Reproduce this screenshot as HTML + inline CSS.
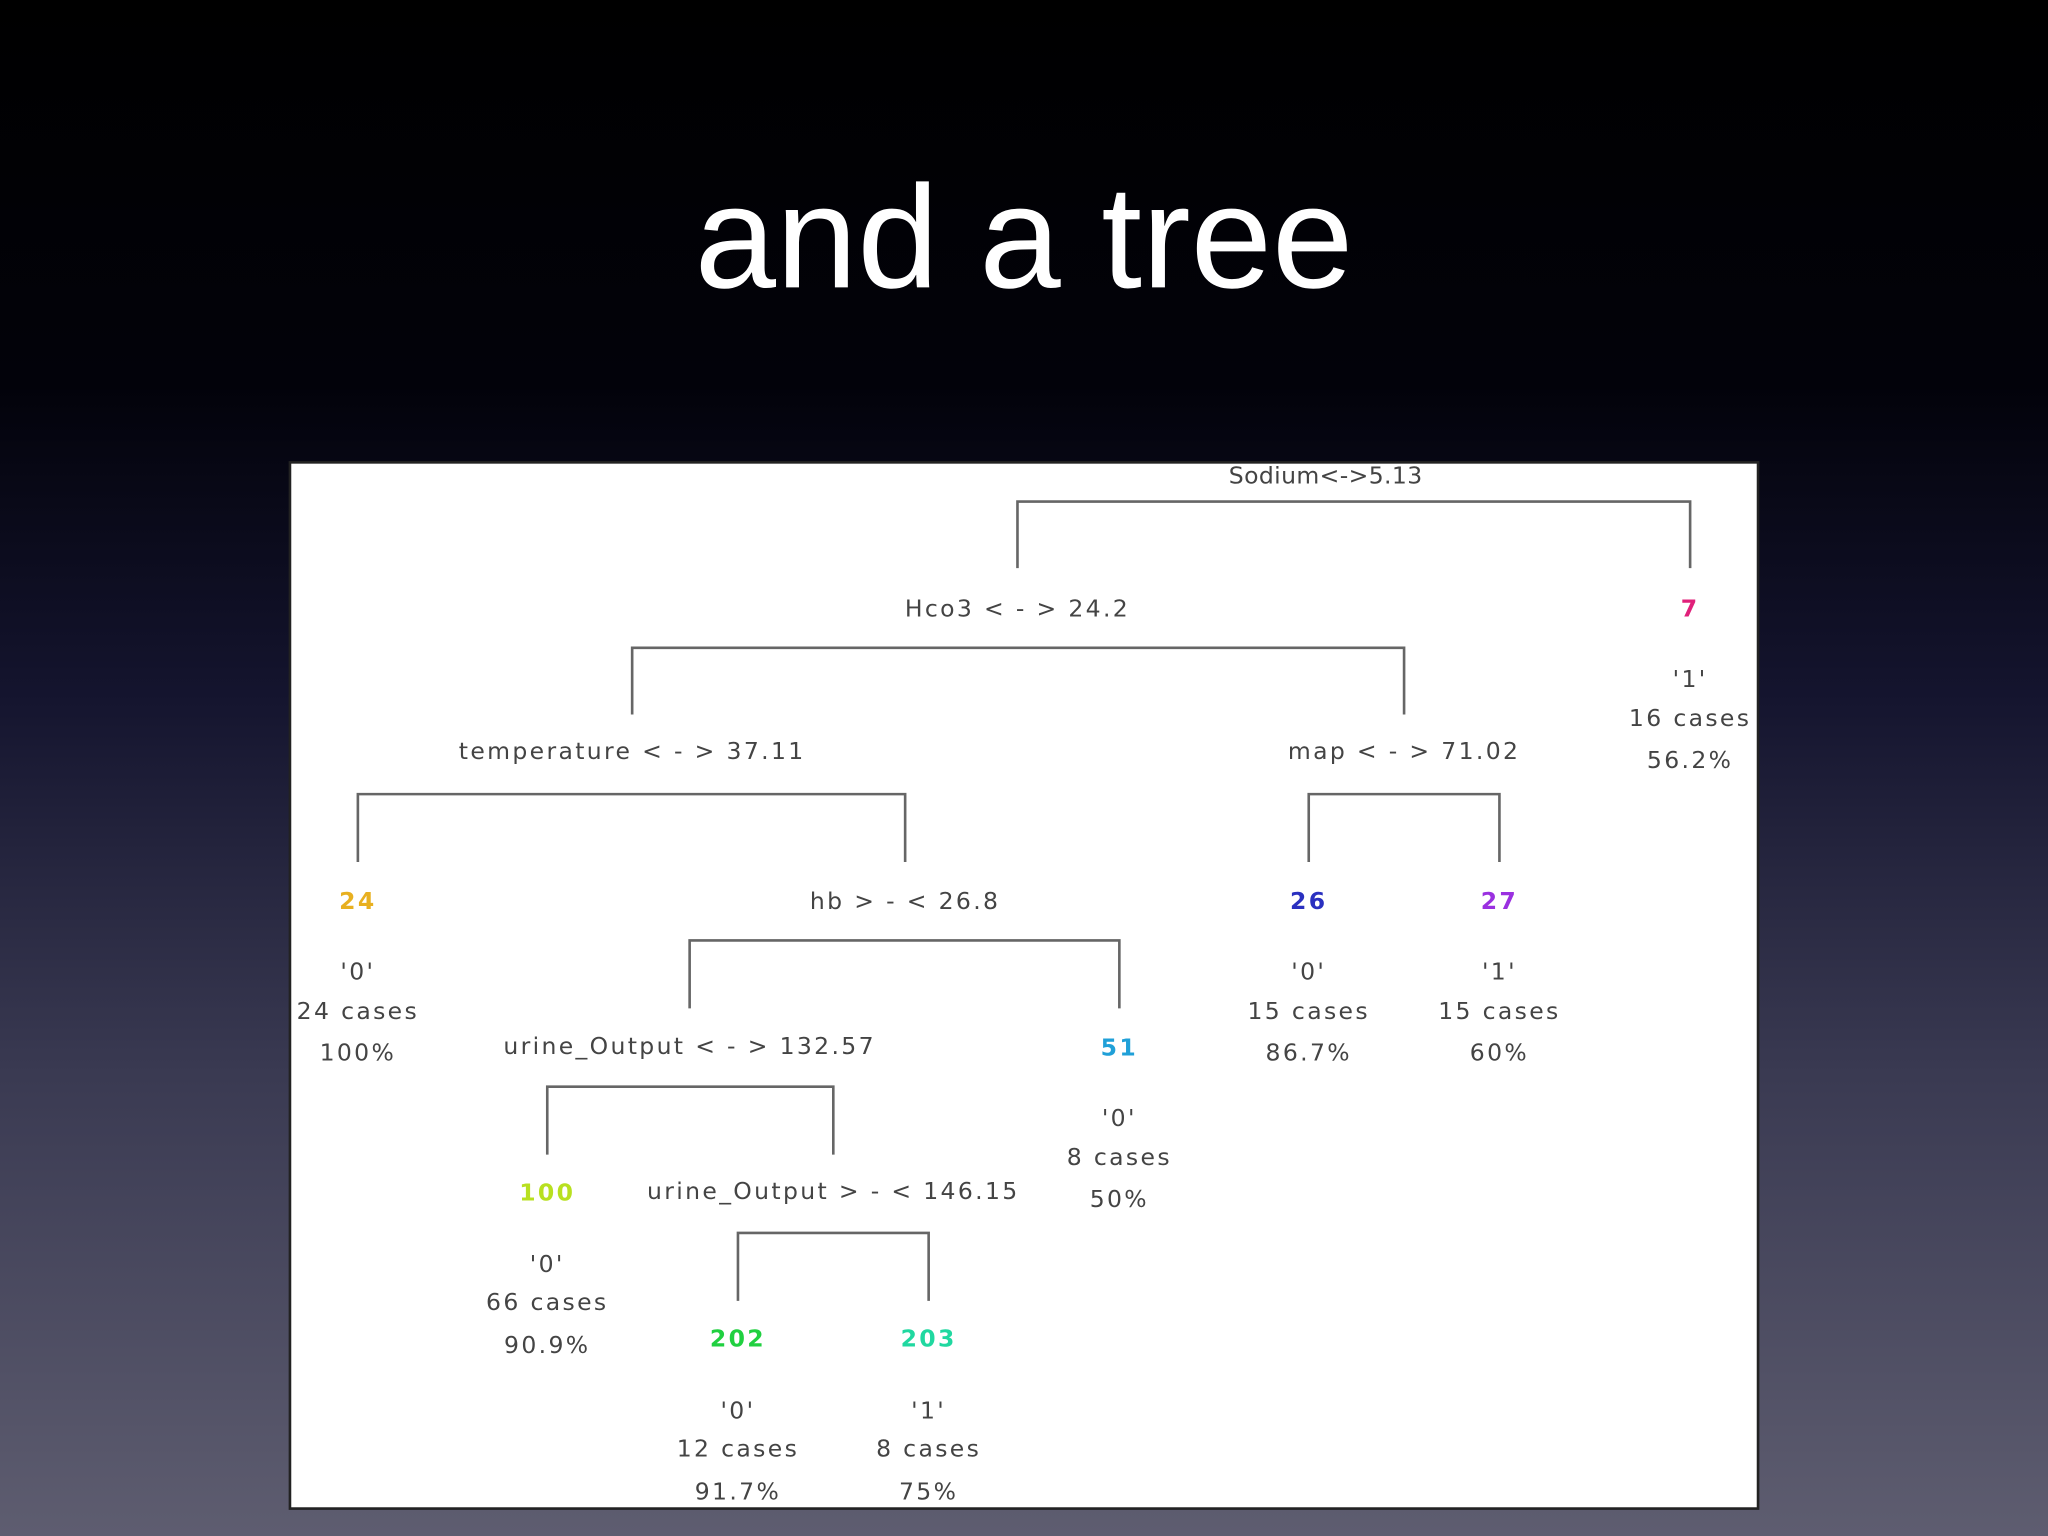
<!DOCTYPE html>
<html><head><meta charset="utf-8"><style>
html,body{margin:0;padding:0;width:2048px;height:1536px;overflow:hidden;background:#000}
svg{display:block}
</style></head><body>
<svg width="2048" height="1536" viewBox="0 0 1568 1176" preserveAspectRatio="none" xmlns="http://www.w3.org/2000/svg">
<defs><linearGradient id="bg" x1="0" y1="0" x2="0" y2="1">
<stop offset="0" stop-color="#000"/><stop offset="0.25" stop-color="#02020a"/>
<stop offset="0.45" stop-color="#14142e"/><stop offset="0.7" stop-color="#3a3a52"/>
<stop offset="1" stop-color="#5e5d70"/></linearGradient></defs>
<rect width="1568" height="1176" fill="url(#bg)"/>
<text x="784" y="220" fill="#fff" font-family="Liberation Sans, sans-serif" font-size="112" text-anchor="middle">and a tree</text>
<rect x="222" y="354" width="1124" height="801" fill="#fff" stroke="#222" stroke-width="2"/>
<g fill="none" stroke="#666" stroke-width="2">
<path d="M779 435V384H1294V435"/>
<path d="M484 547V496H1075V547"/>
<path d="M274 660V608H693V660"/>
<path d="M1002 660V608H1148V660"/>
<path d="M528 772V720H857V772"/>
<path d="M419 884V832H638V884"/>
<path d="M565 996V944H711V996"/>
</g>
<g font-family="DejaVu Sans, Liberation Sans, sans-serif" font-size="18" fill="#444" text-anchor="middle" letter-spacing="1.8">
<text x="1015" y="370" letter-spacing="0.3">Sodium&lt;-&gt;5.13</text>
<text x="779" y="472">Hco3 &lt; - &gt; 24.2</text>
<text x="484" y="581">temperature &lt; - &gt; 37.11</text>
<text x="1075" y="581">map &lt; - &gt; 71.02</text>
<text x="693" y="696">hb &gt; - &lt; 26.8</text>
<text x="528" y="807">urine_Output &lt; - &gt; 132.57</text>
<text x="638" y="918">urine_Output &gt; - &lt; 146.15</text>
<g font-weight="bold">
<text x="1294" y="472" fill="#e0207a">7</text>
<text x="274" y="696" fill="#e8b020">24</text>
<text x="1002" y="696" fill="#2a30c0">26</text>
<text x="1148" y="696" fill="#9a30e0">27</text>
<text x="857" y="808" fill="#20a0d8">51</text>
<text x="419" y="919" fill="#b8e020">100</text>
<text x="565" y="1031" fill="#20d040">202</text>
<text x="711" y="1031" fill="#20d8a0">203</text>
</g>
<text x="1294" y="526">'1'</text><text x="1294" y="556">16 cases</text><text x="1294" y="588">56.2%</text>
<text x="274" y="750">'0'</text><text x="274" y="780">24 cases</text><text x="274" y="812">100%</text>
<text x="1002" y="750">'0'</text><text x="1002" y="780">15 cases</text><text x="1002" y="812">86.7%</text>
<text x="1148" y="750">'1'</text><text x="1148" y="780">15 cases</text><text x="1148" y="812">60%</text>
<text x="857" y="862">'0'</text><text x="857" y="892">8 cases</text><text x="857" y="924">50%</text>
<text x="419" y="974">'0'</text><text x="419" y="1003">66 cases</text><text x="419" y="1036">90.9%</text>
<text x="565" y="1086">'0'</text><text x="565" y="1115">12 cases</text><text x="565" y="1148">91.7%</text>
<text x="711" y="1086">'1'</text><text x="711" y="1115">8 cases</text><text x="711" y="1148">75%</text>
</g>
</svg>
</body></html>
